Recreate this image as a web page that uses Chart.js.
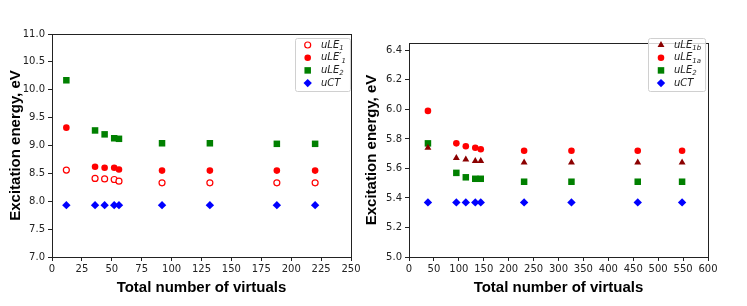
<!DOCTYPE html>
<html>
<head>
<meta charset="utf-8">
<script src="https://cdn.jsdelivr.net/npm/chart.js@4/dist/chart.umd.min.js"></script>
<style>
body { margin: 0; background: #fff; width: 747px; height: 306px; position: relative; overflow: hidden; }
canvas { position: absolute; top: 0; }
#leftChart { left: 0; }
#rightChart { left: 360px; }
</style>
</head>
<body>
<canvas id="leftChart" width="370" height="306"></canvas>
<canvas id="rightChart" width="387" height="306"></canvas>
<script>
// left panel data
var leftX = [12, 36, 44, 52, 56, 92, 132, 188, 220];
var leftLE1 = [8.56, 8.41, 8.40, 8.39, 8.36, 8.33, 8.33, 8.33, 8.33];
var leftLE1p = [9.32, 8.62, 8.60, 8.60, 8.57, 8.55, 8.55, 8.55, 8.55];
var leftLE2 = [10.17, 9.27, 9.20, 9.13, 9.12, 9.04, 9.04, 9.03, 9.03];
var leftCT = [7.93, 7.93, 7.93, 7.93, 7.93, 7.93, 7.93, 7.93, 7.93];
var leftXTicks = [0, 25, 50, 75, 100, 125, 150, 175, 200, 225, 250];
var leftYTicks = [7.0, 7.5, 8.0, 8.5, 9.0, 9.5, 10.0, 10.5, 11.0];
var leftLabels = [['uLE', '1'], ['uLE\u2032', '1'], ['uLE', '2'], ['uCT', '']];

// right panel data
var rightX = [38, 95, 114, 133, 144, 231, 326, 459, 548];
var rightLE1b = [5.74, 5.67, 5.66, 5.65, 5.65, 5.64, 5.64, 5.64, 5.64];
var rightLE1a = [5.99, 5.77, 5.75, 5.74, 5.73, 5.72, 5.72, 5.72, 5.72];
var rightLE2 = [5.77, 5.57, 5.54, 5.53, 5.53, 5.51, 5.51, 5.51, 5.51];
var rightCT = [5.37, 5.37, 5.37, 5.37, 5.37, 5.37, 5.37, 5.37, 5.37];
var rightXTicks = [0, 50, 100, 150, 200, 250, 300, 350, 400, 450, 500, 550, 600];
var rightYTicks = [5.0, 5.2, 5.4, 5.6, 5.8, 6.0, 6.2, 6.4];
var rightLabels = [['uLE', '1b'], ['uLE', '1a'], ['uLE', '2'], ['uCT', '']];

var xTitle = 'Total number of virtuals';
var yTitle = 'Excitation energy, eV';

function points(xs, ys) {
	return xs.map(function (x, i) { return { x: x, y: ys[i] }; });
}

var frame = {
	id: 'frame',
	afterDraw: function (chart) {
		var a = chart.chartArea, c = chart.ctx;
		c.save();
		c.strokeStyle = '#222';
		c.lineWidth = 1;
		c.strokeRect(Math.round(a.left) + 0.5, Math.round(a.top) + 0.5, Math.round(a.right - a.left), Math.round(a.bottom - a.top));
		c.restore();
	}
};

var legendBox = {
	id: 'legendBox',
	afterDraw: function (chart, args, opts) {
		var ctx = chart.ctx;
		var labels = opts.labels;
		ctx.save();
		var maxW = 0;
		labels.forEach(function (p) {
			ctx.font = 'italic 10px "DejaVu Sans"';
			var w = ctx.measureText(p[0]).width;
			ctx.font = 'italic 7px "DejaVu Sans"';
			w += ctx.measureText(p[1]).width;
			maxW = Math.max(maxW, w);
		});
		var bw = opts.textX + maxW + 4;
		var bx = opts.x, by = opts.y, bh = opts.h;
		ctx.beginPath();
		ctx.roundRect(bx + 0.5, by + 0.5, bw, bh, 2);
		ctx.fillStyle = 'rgba(255,255,255,0.8)';
		ctx.fill();
		ctx.strokeStyle = '#d0d0d0';
		ctx.lineWidth = 1;
		ctx.stroke();
		chart.data.datasets.forEach(function (ds, i) {
			var y = by + 7 + i * 12.7;
			ctx.fillStyle = ds.backgroundColor;
			ctx.strokeStyle = ds.borderColor;
			ctx.lineWidth = ds.borderWidth;
			Chart.helpers.drawPoint(ctx, { pointStyle: ds.pointStyle, radius: ds.pointRadius, rotation: 0, borderWidth: ds.borderWidth }, bx + opts.markX, y);
			ctx.fillStyle = '#222';
			ctx.textBaseline = 'middle';
			ctx.textAlign = 'left';
			ctx.font = 'italic 10px "DejaVu Sans"';
			ctx.fillText(labels[i][0], bx + opts.textX, y);
			var w = ctx.measureText(labels[i][0]).width;
			if (labels[i][1]) {
				ctx.font = 'italic 7px "DejaVu Sans"';
				ctx.fillText(labels[i][1], bx + opts.textX + w, y + 3);
			}
		});
		ctx.restore();
	}
};

function axisScales(xTicks, yTicks, yMax, yWidth, yTitlePad) {
	var tickFont = { family: 'DejaVu Sans', size: 10 };
	var titleFont = { family: 'Liberation Sans', size: 15, weight: 'bold' };
	return {
		x: {
			type: 'linear',
			min: xTicks[0],
			max: xTicks[xTicks.length - 1],
			afterBuildTicks: function (s) { s.ticks = xTicks.map(function (v) { return { value: v }; }); },
			afterFit: function (s) { s.height = 49; },
			grid: { drawOnChartArea: false, drawTicks: true, tickLength: 4, color: '#222' },
			border: { display: false },
			ticks: { font: tickFont, color: '#222', padding: 2, maxRotation: 0, autoSkip: false, callback: function (v) { return String(v); } },
			title: { display: true, text: xTitle, font: titleFont, color: '#000', padding: { top: 0, bottom: 9 } }
		},
		y: {
			type: 'linear',
			min: yTicks[0],
			max: yMax,
			afterBuildTicks: function (s) { s.ticks = yTicks.map(function (v) { return { value: v }; }); },
			afterFit: function (s) { s.width = yWidth; },
			grid: { drawOnChartArea: false, drawTicks: true, tickLength: 4, color: '#222' },
			border: { display: false },
			ticks: { font: tickFont, color: '#222', padding: 3, autoSkip: false, callback: function (v) { return v.toFixed(1); } },
			title: { display: true, text: yTitle, font: titleFont, color: '#000', padding: { top: yTitlePad, bottom: 0 } }
		}
	};
}

new Chart(document.getElementById('leftChart'), {
	type: 'scatter',
	data: {
		datasets: [
			{ data: points(leftX, leftLE1), pointStyle: 'circle', pointRadius: 3, backgroundColor: '#ffffff', borderColor: '#ff0000', borderWidth: 1.2 },
			{ data: points(leftX, leftLE1p), pointStyle: 'circle', pointRadius: 3.3, backgroundColor: '#ff0000', borderColor: '#ff0000', borderWidth: 0 },
			{ data: points(leftX, leftLE2), pointStyle: 'rect', pointRadius: 4.6, backgroundColor: '#008000', borderColor: '#008000', borderWidth: 0 },
			{ data: points(leftX, leftCT), pointStyle: 'rectRot', pointRadius: 4.2, backgroundColor: '#0000ff', borderColor: '#0000ff', borderWidth: 0 }
		]
	},
	options: {
		responsive: false,
		animation: false,
		events: [],
		layout: { padding: { top: 34, right: 19, bottom: 0, left: 0 } },
		scales: axisScales(leftXTicks, leftYTicks, 11.0, 52, 7),
		plugins: {
			legend: { display: false },
			tooltip: { enabled: false },
			legendBox: { labels: leftLabels, x: 295, y: 38, h: 53, markX: 12.7, textX: 26 }
		}
	},
	plugins: [frame, legendBox]
});

new Chart(document.getElementById('rightChart'), {
	type: 'scatter',
	data: {
		datasets: [
			{ data: points(rightX, rightLE1b), pointStyle: 'triangle', pointRadius: 4, backgroundColor: '#8b0000', borderColor: '#8b0000', borderWidth: 0 },
			{ data: points(rightX, rightLE1a), pointStyle: 'circle', pointRadius: 3.3, backgroundColor: '#ff0000', borderColor: '#ff0000', borderWidth: 0 },
			{ data: points(rightX, rightLE2), pointStyle: 'rect', pointRadius: 4.6, backgroundColor: '#008000', borderColor: '#008000', borderWidth: 0 },
			{ data: points(rightX, rightCT), pointStyle: 'rectRot', pointRadius: 4.2, backgroundColor: '#0000ff', borderColor: '#0000ff', borderWidth: 0 }
		]
	},
	options: {
		responsive: false,
		animation: false,
		events: [],
		layout: { padding: { top: 43, right: 39, bottom: 0, left: 0 } },
		scales: axisScales(rightXTicks, rightYTicks, 6.45, 49, 3),
		plugins: {
			legend: { display: false },
			tooltip: { enabled: false },
			legendBox: { labels: rightLabels, x: 288, y: 38, h: 53, markX: 13, textX: 26 }
		}
	},
	plugins: [frame, legendBox]
});
</script>
</body>
</html>
